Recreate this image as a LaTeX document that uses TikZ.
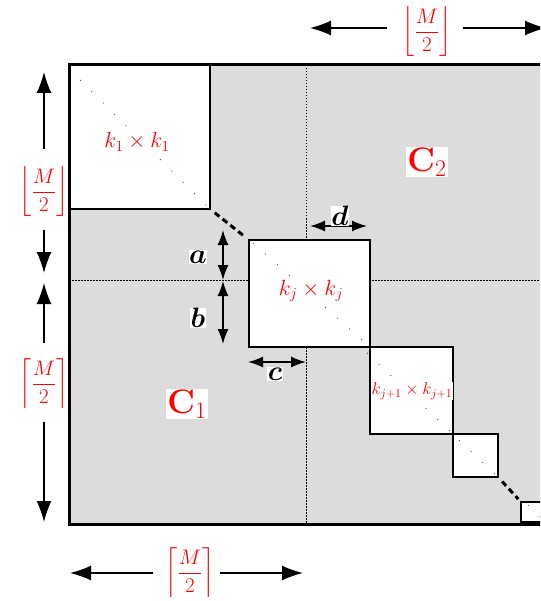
\RequirePackage{fix-cm}
\documentclass[tikz,border=0pt]{standalone}
\usepackage{amsmath,bm}
\usetikzlibrary{arrows.meta}
\definecolor{bggray}{RGB}{220,220,220}
\tikzset{
  arr/.style={line width=1.5pt, -{Latex[length=21pt,width=15pt]}},
  darr/.style={line width=1.5pt, {Latex[length=15pt,width=11pt]}-{Latex[length=15pt,width=11pt]}},
  blk/.style={fill=white, draw=black, line width=1.6pt, inner sep=0pt, outer sep=0pt, anchor=north west},
  diag/.style={draw=black!70, line width=0.9pt, dash pattern=on 0.9pt off 15.2pt},
  dsh/.style={line width=3pt, dash pattern=on 6pt off 4pt},
  dotl/.style={line width=0.8pt, dash pattern=on 1.5pt off 1.5pt},
  mlab/.style={text=red, inner sep=0pt, font=\fontsize{21}{25}\selectfont},
  klab/.style={text=red, fill=white, inner sep=1pt, font=\fontsize{22}{26}\selectfont},
  slab/.style={text=red, fill=white, inner sep=0.5pt, font=\fontsize{17}{20}\selectfont},
  clab/.style={text=red, fill=white, inner sep=1pt, font=\fontsize{34}{40}\selectfont},
  lab/.style={fill=white, inner sep=0.5pt, font=\fontsize{28}{32}\selectfont}
}
\begin{document}
\begin{tikzpicture}[x=1pt,y=-1pt]
\useasboundingbox (0,0) rectangle (540,601);
\clip (0,0) rectangle (540,601);
% background
\fill[bggray] (69,65) rectangle (570,524);
\draw[dotl] (306,65) -- (306,524);
\draw[dotl] (69,280) -- (570,280);
% blocks
\node[blk, minimum width=141pt, minimum height=144pt] (B1) at (69,65) {};
\node[blk, minimum width=121pt, minimum height=107pt] (Bj) at (249,240) {};
\node[blk, minimum width=83pt, minimum height=87pt] (Bk) at (370,347) {};
\node[blk, minimum width=45pt, minimum height=43pt] (Bs) at (453,434) {};
\node[blk, minimum width=45pt, minimum height=20pt] (Bl) at (521,502) {};
% diagonals
\draw[diag] ([shift={(11,15)}]B1.north west) -- (B1.south east);
\draw[diag] ([shift={(4,3)}]Bj.north west) -- (Bj.south east);
\draw[diag] ([shift={(-3,6)}]Bk.north west) -- (Bk.south east);
\draw[diag] ([shift={(6,6)}]Bs.north west) -- (Bs.south east);
\draw[diag] ([shift={(7,3)}]Bl.north west) -- ([shift={(30,25)}]Bl.north west);
% dashed connectors
\draw[dsh, shorten <=6pt, shorten >=4pt] (B1.south east) -- (Bj.north west);
\draw[dsh, shorten <=6pt, shorten >=4pt] (Bs.south east) -- (Bl.north west);
% block labels
\node[klab] (K1) at (137,142) {$k_1\times k_1$};
\node[klab] (Kj) at (311,291) {$k_j\times k_j$};
\node[slab] (Kk) at (412,391) {$k_{j+1}\times k_{j+1}$};
\node[clab] (C2) at (427,162) {$\mathbf{C}_2$};
\node[clab] (C1) at (187,404) {$\mathbf{C}_1$};
% a b c d
\coordinate (a1) at (223,230);
\coordinate (a2) at (223,280);
\coordinate (b1) at (223,281);
\coordinate (b2) at (223,344);
\coordinate (c1) at (248,362);
\coordinate (c2) at (306,362);
\coordinate (d1) at (310,226);
\coordinate (d2) at (367,226);
\draw[darr] (a1) -- (a2);
\draw[darr] (b1) -- (b2);
\draw[darr] (c1) -- (c2);
\draw[darr] (d1) -- (d2);
\node[lab] (la) at (198,257) {$\bm{a}$};
\node[lab] (lb) at (198,318) {$\bm{b}$};
\node[lab] (lc) at (275,374) {$\bm{c}$};
\node[lab] (ld) at (340,216) {$\bm{d}$};
% outer border
\draw[line width=3pt] (69,65) rectangle (570,524);
% dimension arrows
\node[mlab] (M1) at (44,192) {$\left\lfloor\dfrac{M}{2}\right\rfloor$};
\coordinate (M1a) at (44,149);
\coordinate (M1at) at (44,72);
\coordinate (M1b) at (44,230);
\coordinate (M1bt) at (44,273);
\draw[arr] (M1a) -- (M1at);
\draw[arr] (M1b) -- (M1bt);
\node[mlab] (M2) at (44,384) {$\left\lceil\dfrac{M}{2}\right\rceil$};
\coordinate (M2a) at (44,343);
\coordinate (M2at) at (44,283);
\coordinate (M2b) at (44,422);
\coordinate (M2bt) at (44,522);
\draw[arr] (M2a) -- (M2at);
\draw[arr] (M2b) -- (M2bt);
\node[mlab] (M3) at (190,573) {$\left\lceil\dfrac{M}{2}\right\rceil$};
\coordinate (M3a) at (153,573);
\coordinate (M3at) at (70,573);
\coordinate (M3b) at (220,573);
\coordinate (M3bt) at (303,573);
\draw[arr] (M3a) -- (M3at);
\draw[arr] (M3b) -- (M3bt);
\node[mlab] (M4) at (427,32) {$\left\lfloor\dfrac{M}{2}\right\rfloor$};
\coordinate (M4a) at (387,28);
\coordinate (M4at) at (310,28);
\coordinate (M4b) at (463,28);
\coordinate (M4bt) at (546,28);
\draw[arr] (M4a) -- (M4at);
\draw[arr] (M4b) -- (M4bt);
\end{tikzpicture}
\end{document}
